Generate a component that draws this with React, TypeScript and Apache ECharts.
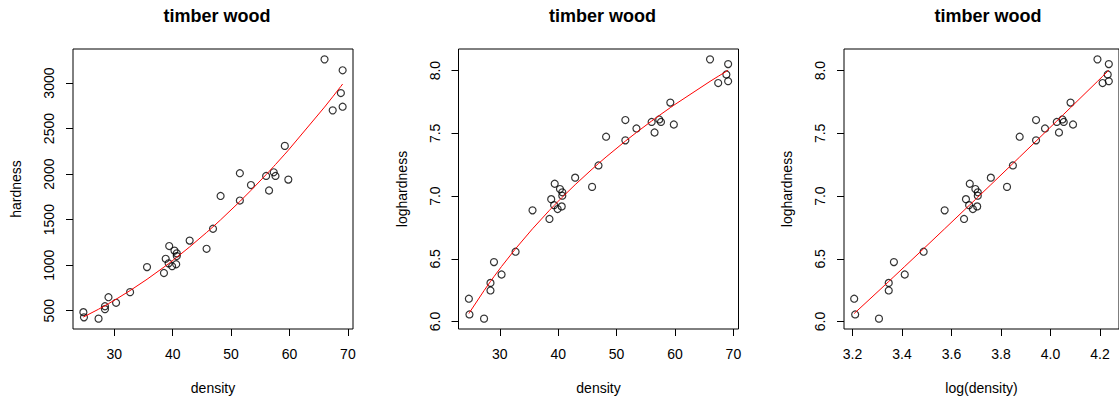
import React, { useEffect, useRef } from "react";
import * as echarts from "echarts";

// Janka timber data (density, hardness) sorted by density
const density = [24.7, 24.8, 27.3, 28.4, 28.4, 29.0, 30.3, 32.7, 35.6, 38.5, 38.8, 39.3, 39.4, 39.9, 40.3, 40.6, 40.7, 40.7, 42.9, 45.8, 46.9, 48.2, 51.5, 51.5, 53.4, 56.0, 56.5, 57.3, 57.6, 59.2, 59.8, 66.0, 67.4, 68.8, 69.1, 69.1];
const hardness = [484, 427, 413, 517, 549, 648, 587, 704, 979, 914, 1070, 1020, 1210, 989, 1160, 1010, 1100, 1130, 1270, 1180, 1400, 1760, 1710, 2010, 1880, 1980, 1820, 2020, 1980, 2310, 1940, 3260, 2700, 2890, 2740, 3140];
const logHardness = [6.1821, 6.0568, 6.0234, 6.2480, 6.3081, 6.4739, 6.3750, 6.5568, 6.8865, 6.8178, 6.9754, 6.9276, 7.0984, 6.8967, 7.0562, 6.9177, 7.0031, 7.0300, 7.1468, 7.0733, 7.2442, 7.4731, 7.4442, 7.6059, 7.5390, 7.5909, 7.5066, 7.6109, 7.5909, 7.7450, 7.5704, 8.0895, 7.9010, 7.9690, 7.9157, 8.0520];
const logDensity = [3.2068, 3.2108, 3.3069, 3.3464, 3.3464, 3.3673, 3.4111, 3.4874, 3.5723, 3.6507, 3.6584, 3.6712, 3.6738, 3.6864, 3.6964, 3.7038, 3.7062, 3.7062, 3.7589, 3.8243, 3.8480, 3.8754, 3.9416, 3.9416, 3.9778, 4.0254, 4.0342, 4.0483, 4.0535, 4.0809, 4.0910, 4.1897, 4.2106, 4.2312, 4.2356, 4.2356];
// fitted curve
const fittedHardness = [430.1, 433.3, 516.4, 555.4, 555.4, 577.2, 625.9, 721.1, 845.0, 978.8, 993.2, 1017.4, 1022.3, 1046.9, 1066.8, 1081.8, 1086.8, 1086.8, 1200.5, 1359.0, 1421.7, 1497.6, 1699.2, 1699.2, 1821.1, 1994.6, 2028.9, 2084.3, 2105.3, 2219.1, 2262.4, 2735.7, 2848.8, 2964.1, 2989.1, 2989.1];
const fittedLogHardness = [6.0640, 6.0714, 6.2468, 6.3196, 6.3196, 6.3581, 6.4391, 6.5807, 6.7393, 6.8865, 6.9011, 6.9252, 6.9300, 6.9537, 6.9726, 6.9865, 6.9911, 6.9911, 7.0906, 7.2145, 7.2596, 7.3116, 7.4379, 7.4379, 7.5072, 7.5982, 7.6152, 7.6422, 7.6522, 7.7048, 7.7241, 7.9141, 7.9546, 7.9943, 8.0027, 8.0027];

const densityTicks = [30, 40, 50, 60, 70];
const logDensityTicks = [3.2, 3.4, 3.6, 3.8, 4.0, 4.2];
const hardnessTicks = [500, 1000, 1500, 2000, 2500, 3000];
const logHardnessTicks = [6.0, 6.5, 7.0, 7.5, 8.0];

const titleText = "timber wood";
const FONT = "'Liberation Sans', Arial, sans-serif";

function rExtent(v: number[]) {
  const lo = Math.min(...v);
  const hi = Math.max(...v);
  const d = (hi - lo) * 0.04;
  return [lo - d, hi + d];
}

const GRID_LEFTS = [73, 458.5, 844];
const GRID_TOP = 49;
const GRID_W = 280;
const GRID_H = 280;

export default function App() {
  const ref = useRef<HTMLDivElement>(null);
  useEffect(() => {
    if (!ref.current) return;
    const chart = echarts.init(ref.current, null, { renderer: "svg" });

    const panels = [
      { x: density, y: hardness, fx: density, fy: fittedHardness, xt: densityTicks, yt: hardnessTicks, xn: "density", yn: "hardness", xd: 0, yd: 0 },
      { x: density, y: logHardness, fx: density, fy: fittedLogHardness, xt: densityTicks, yt: logHardnessTicks, xn: "density", yn: "loghardness", xd: 0, yd: 1 },
      { x: logDensity, y: logHardness, fx: logDensity, fy: fittedLogHardness, xt: logDensityTicks, yt: logHardnessTicks, xn: "log(density)", yn: "loghardness", xd: 1, yd: 1 },
    ];

    const axisCommon = {
      axisLine: { show: false },
      splitLine: { show: false },
    };

    const option: any = {
      animation: false,
      backgroundColor: "#fff",
      title: panels.map((p, i) => ({
        text: titleText,
        left: GRID_LEFTS[i] + GRID_W / 2 - 1,
        textAlign: "center",
        top: 2,
        textStyle: { fontFamily: FONT, fontSize: 18, fontWeight: "bold", color: "#000" },
      })),
      grid: panels.map((p, i) => ({
        left: GRID_LEFTS[i],
        top: GRID_TOP,
        width: GRID_W,
        height: GRID_H,
        show: true,
        borderColor: "#000",
        borderWidth: 1,
        backgroundColor: "transparent",
        containLabel: false,
      })),
      xAxis: panels.map((p, i) => {
        const [mn, mx] = rExtent(p.x);
        return {
          ...axisCommon,
          type: "value",
          gridIndex: i,
          min: mn,
          max: mx,
          name: p.xn,
          nameLocation: "middle",
          nameGap: 52,
          nameTextStyle: { fontFamily: FONT, fontSize: 14, color: "#000" },
          axisTick: { show: true, length: 7, inside: false, customValues: p.xt, lineStyle: { color: "#000", width: 1 } },
          axisLabel: {
            customValues: p.xt,
            margin: 18,
            fontFamily: FONT,
            fontSize: 14,
            color: "#000",
            formatter: (v: number) => v.toFixed(p.xd),
          },
        };
      }),
      yAxis: panels.map((p, i) => {
        const [mn, mx] = rExtent(p.y);
        return {
          ...axisCommon,
          type: "value",
          gridIndex: i,
          min: mn,
          max: mx,
          name: p.yn,
          nameLocation: "middle",
          nameRotate: 90,
          nameGap: 50,
          nameTextStyle: { fontFamily: FONT, fontSize: 14, color: "#000" },
          axisTick: { show: true, length: 7, inside: false, customValues: p.yt, lineStyle: { color: "#000", width: 1 } },
          axisLabel: {
            customValues: p.yt,
            rotate: 90,
            margin: 17,
            fontFamily: FONT,
            fontSize: 14,
            color: "#000",
            formatter: (v: number) => v.toFixed(p.yd),
          },
        };
      }),
      series: panels.flatMap((p, i) => [
        {
          type: "scatter",
          xAxisIndex: i,
          yAxisIndex: i,
          symbol: "circle",
          symbolSize: 7,
          itemStyle: { color: "rgba(0,0,0,0)", borderColor: "#000", borderWidth: 1.2 },
          data: p.x.map((xv, k) => [xv, p.y[k]]),
          z: 2,
        },
        {
          type: "line",
          xAxisIndex: i,
          yAxisIndex: i,
          showSymbol: false,
          symbol: "none",
          lineStyle: { color: "#ff0000", width: 1 },
          data: p.fx.map((xv, k) => [xv, p.fy[k]]),
          z: 3,
        },
      ]),
    };
    chart.setOption(option);
    return () => chart.dispose();
  }, []);

  return (
    <div
      ref={ref}
      style={{ position: "absolute", left: 0, top: 0, width: 1119, height: 404, overflow: "hidden" }}
    />
  );
}
